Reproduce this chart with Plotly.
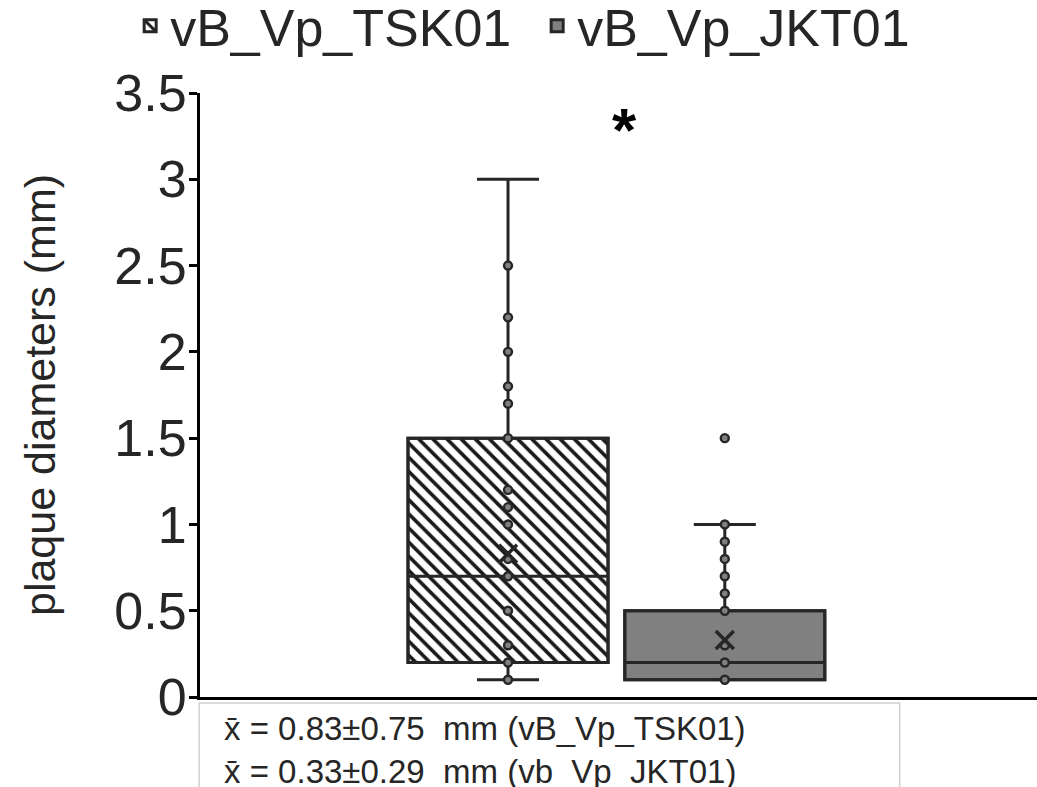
import plotly.graph_objects as go

# ---------------- data ----------------
series_names = ["vB_Vp_TSK01", "vB_Vp_JKT01"]
tsk_points = [0.1, 0.2, 0.3, 0.5, 0.7, 0.8, 1.0, 1.1, 1.2, 1.5, 1.7, 1.8, 2.0, 2.2, 2.5]
jkt_points = [0.1, 0.2, 0.3, 0.5, 0.6, 0.7, 0.8, 0.9, 1.0, 1.5]
q1_vals = [0.2, 0.1]
median_vals = [0.7, 0.2]
q3_vals = [1.5, 0.5]
lower_vals = [0.1, 0.1]
upper_vals = [3.0, 1.0]
mean_vals = [0.83, 0.33]
sd_vals = [0.75, 0.29]
stat_labels = ["vB_Vp_TSK01", "vb_Vp_JKT01"]
y_ticks = [0, 0.5, 1, 1.5, 2, 2.5, 3, 3.5]
y_tick_text = ["0", "0.5", "1", "1.5", "2", "2.5", "3", "3.5"]

# ---------------- style ----------------
FONT = "Liberation Sans, Arial, sans-serif"
DARK = "#262626"
GRAY = "#808080"
positions = [0.368, 0.627]
box_w = 0.239
points_list = [tsk_points, jkt_points]

fig = go.Figure()

# box bodies as bars (for hatch pattern + legend)
fig.add_trace(go.Bar(
    x=[positions[0]], y=[q3_vals[0] - q1_vals[0]], base=[q1_vals[0]], width=box_w,
    name=series_names[0],
    marker=dict(color="white", line=dict(color=DARK, width=3),
                pattern=dict(shape="\\", fgcolor="#1a1a1a", bgcolor="white", fgopacity=1,
                             size=10, solidity=0.36)),
))
fig.add_trace(go.Bar(
    x=[positions[1]], y=[q3_vals[1] - q1_vals[1]], base=[q1_vals[1]], width=box_w,
    name=series_names[1],
    marker=dict(color=GRAY, line=dict(color=DARK, width=3)),
))

# whiskers / median via box traces with precomputed stats
for i in range(2):
    fig.add_trace(go.Box(
        x=[positions[i]], q1=[q1_vals[i]], median=[median_vals[i]], q3=[q3_vals[i]],
        lowerfence=[lower_vals[i]], upperfence=[upper_vals[i]],
        width=box_w, whiskerwidth=0.31,
        fillcolor="rgba(0,0,0,0)", line=dict(color=DARK, width=3),
        showlegend=False, hoverinfo="skip",
    ))

# data points
for i in range(2):
    fig.add_trace(go.Scatter(
        x=[positions[i]] * len(points_list[i]), y=points_list[i], mode="markers",
        marker=dict(symbol="circle", size=8, color=GRAY, line=dict(color=DARK, width=2.4)),
        showlegend=False, hoverinfo="skip",
    ))

# means
fig.add_trace(go.Scatter(
    x=positions, y=mean_vals, mode="markers",
    marker=dict(symbol="x-thin", size=18, line=dict(color=DARK, width=3.5)),
    showlegend=False, hoverinfo="skip",
))

fig.update_layout(
    width=1037, height=787,
    margin=dict(l=200, r=0, t=93, b=90, autoexpand=False),
    plot_bgcolor="white", paper_bgcolor="white",
    barmode="overlay", boxmode="overlay",
    font=dict(family=FONT, color=DARK),
    showlegend=True,
    legend=dict(orientation="h", xref="container", yref="paper",
                x=0.518, xanchor="center", y=1.178, yanchor="top",
                font=dict(size=52, family=FONT, color=DARK),
                entrywidth=362, itemwidth=30, tracegroupgap=0, bgcolor="rgba(0,0,0,0)"),
    xaxis=dict(range=[0, 1], showgrid=False, zeroline=False, showticklabels=False, automargin=False,
               ticks="", showline=True, linecolor="black", linewidth=3),
    yaxis=dict(range=[0, 3.5], tickvals=y_ticks, ticktext=y_tick_text, automargin=False,
               showgrid=False, zeroline=False, showline=True, linecolor="black", linewidth=3,
               ticks="outside", ticklen=8, tickwidth=2.5, tickcolor="black",
               ticklabelstandoff=-8,
               tickfont=dict(size=52, family=FONT, color=DARK),
               title=dict(text="plaque diameters (mm)", standoff=46,
                          font=dict(size=43, family=FONT, color=DARK))),
)

# significance asterisk
fig.add_annotation(x=0.507, y=3.29, xref="x", yref="y", text="<b>*</b>", showarrow=False,
                   font=dict(size=62, family=FONT, color="black"), yanchor="middle")

# stats box
fig.add_shape(type="rect", xref="paper", yref="paper",
              x0=-0.001, x1=0.836, y0=-0.0099, y1=-0.2,
              line=dict(color="#d0d0d0", width=1.5), fillcolor="white", layer="above")
stats_text = "<br>".join(
    f"x\u0304 = {mean_vals[i]:.2f}\u00b1{sd_vals[i]:.2f}  mm ({stat_labels[i]})" for i in range(2))
fig.add_annotation(
    xref="paper", yref="paper", x=0.026, y=-0.087, xanchor="left", yanchor="middle",
    text=stats_text, showarrow=False, font=dict(size=33, family=FONT, color=DARK), align="left")

fig.write_html("out.html", config={"displayModeBar": False},
               post_script="document.body.style.margin='0';document.body.style.overflow='hidden';")
